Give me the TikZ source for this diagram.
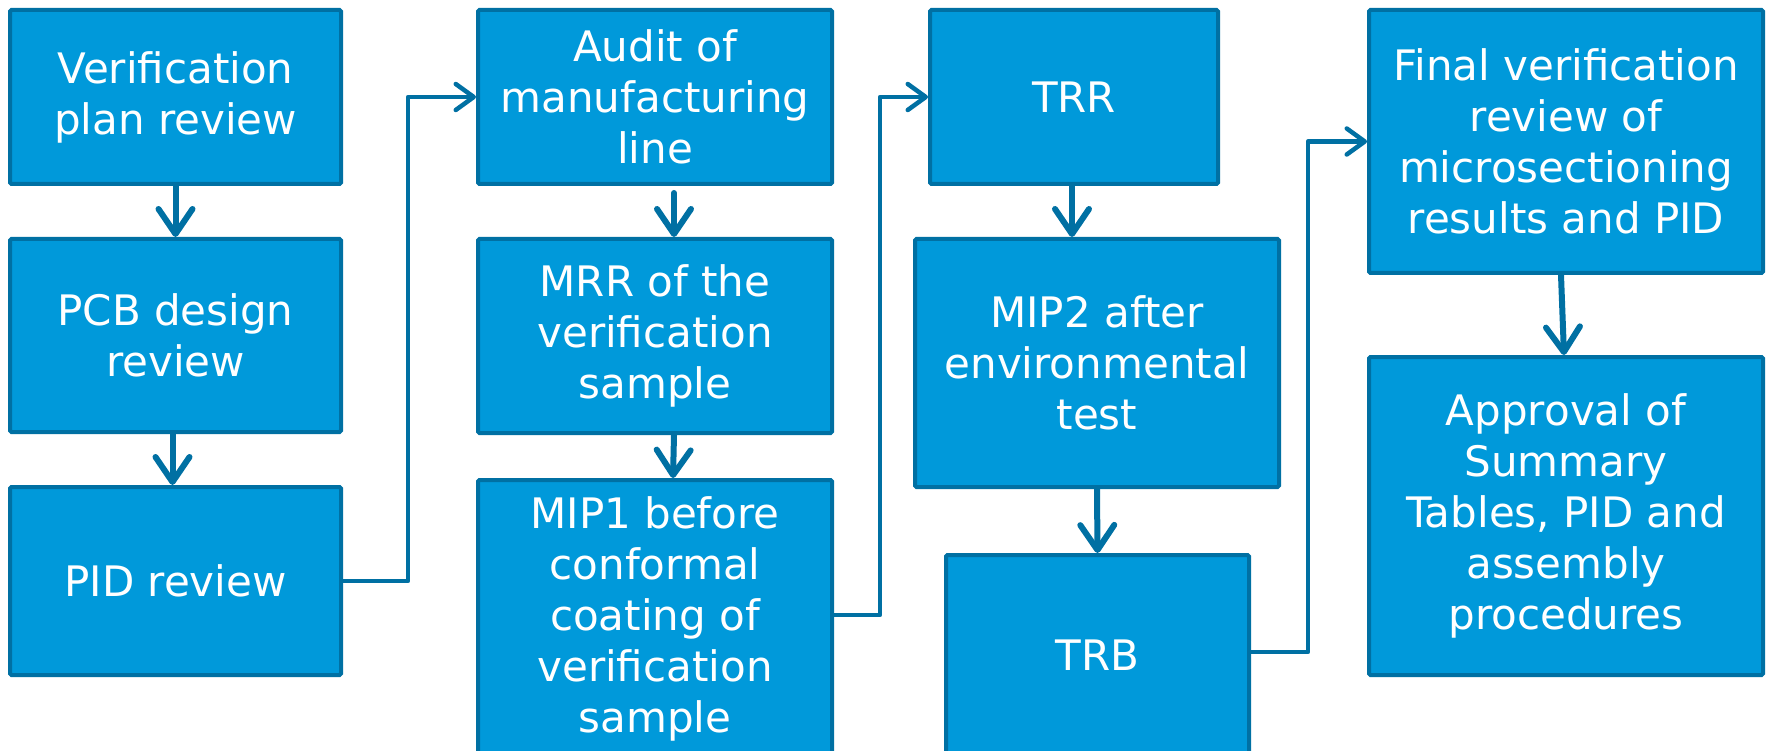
\documentclass[tikz,border=0pt]{standalone}
\usepackage{fontspec}
\setmainfont{DejaVu Sans}
\usetikzlibrary{arrows.meta}
\definecolor{boxfill}{RGB}{0,153,218}
\definecolor{boxline}{RGB}{0,112,163}
\tikzset{
  stepbox/.style={draw=boxline, fill=boxfill, line width=4pt, rounded corners=1.5pt,
    text=white, align=center, inner sep=0pt,
    font=\fontsize{42}{51}\selectfont},
  downarrow/.style={draw=boxline, line width=6pt, line cap=round,
    -{Straight Barb[length=25pt,width=34pt,line cap=round,line join=round]}},
  sidearrow/.style={draw=boxline, line width=4.5pt, line join=round,
    -{Straight Barb[length=18pt,width=26pt,line cap=round,line join=round]}}
}
\begin{document}
\begin{tikzpicture}[x=1pt,y=-1pt]
\useasboundingbox (0,0) rectangle (1767,751);
\clip (0,0) rectangle (1767,751);
\fill[white] (0,0) rectangle (1767,751);

\node[stepbox, minimum width=331pt, minimum height=174pt] (v) at (175.5,97) {Verification\\plan review};
\node[stepbox, minimum width=331pt, minimum height=193pt] (pcb) at (175.5,335.5) {PCB design\\review};
\node[stepbox, minimum width=331pt, minimum height=188pt] (pid) at (175.5,581) {PID review};

\node[stepbox, minimum width=354pt, minimum height=174pt] (audit) at (655,97) {Audit of\\manufacturing\\line};
\node[stepbox, minimum width=354pt, minimum height=194pt] (mrr) at (655,336) {MRR of the\\verification\\sample};
\node[stepbox, minimum width=354pt, minimum height=278pt] (mip1) at (655,619) {MIP1 before\\conformal\\coating of\\verification\\sample};

\node[stepbox, minimum width=288pt, minimum height=174pt] (trr) at (1074,97) {TRR};
\node[stepbox, minimum width=364pt, minimum height=248pt] (mip2) at (1097,363) {MIP2 after\\environmental\\test};
\node[stepbox, minimum width=303pt, minimum height=200pt] (trb) at (1097.5,655) {TRB};

\node[stepbox, minimum width=394pt, minimum height=263pt] (final) at (1566,141.5) {Final verification\\review of\\microsectioning\\results and PID};
\node[stepbox, minimum width=394pt, minimum height=318pt] (appr) at (1566,516) {Approval of\\Summary\\Tables, PID and\\assembly\\procedures};

\coordinate (b1) at (408,0);
\coordinate (b2) at (880,0);
\coordinate (b3) at (1308,0);

\draw[downarrow] (v.south) -- (pcb.north);
\draw[downarrow] ([xshift=-3pt]pcb.south) -- ([xshift=-3pt]pid.north);
\draw[downarrow] ([xshift=19pt,yshift=-7pt]audit.south) -- ([xshift=19pt]mrr.north);
\draw[downarrow] ([xshift=19pt]mrr.south) -- ([xshift=18pt]mip1.north);
\draw[downarrow] ([xshift=-2pt]trr.south) -- ([xshift=-25pt]mip2.north);
\draw[downarrow] (mip2.south) -- (trb.north);
\draw[downarrow] ([xshift=-5pt]final.south) -- ([xshift=-2pt]appr.north);

\draw[sidearrow] (pid.east) -- (pid.east -| b1) -- (audit.west -| b1) -- (audit.west);
\draw[sidearrow] ([yshift=4pt]mip1.east) -- ([yshift=4pt]mip1.east -| b2) -- (trr.west -| b2) -- (trr.west);
\draw[sidearrow] ([yshift=3pt]trb.east) -- ([yshift=3pt]trb.east -| b3) -- (final.west -| b3) -- (final.west);
\end{tikzpicture}
\end{document}
